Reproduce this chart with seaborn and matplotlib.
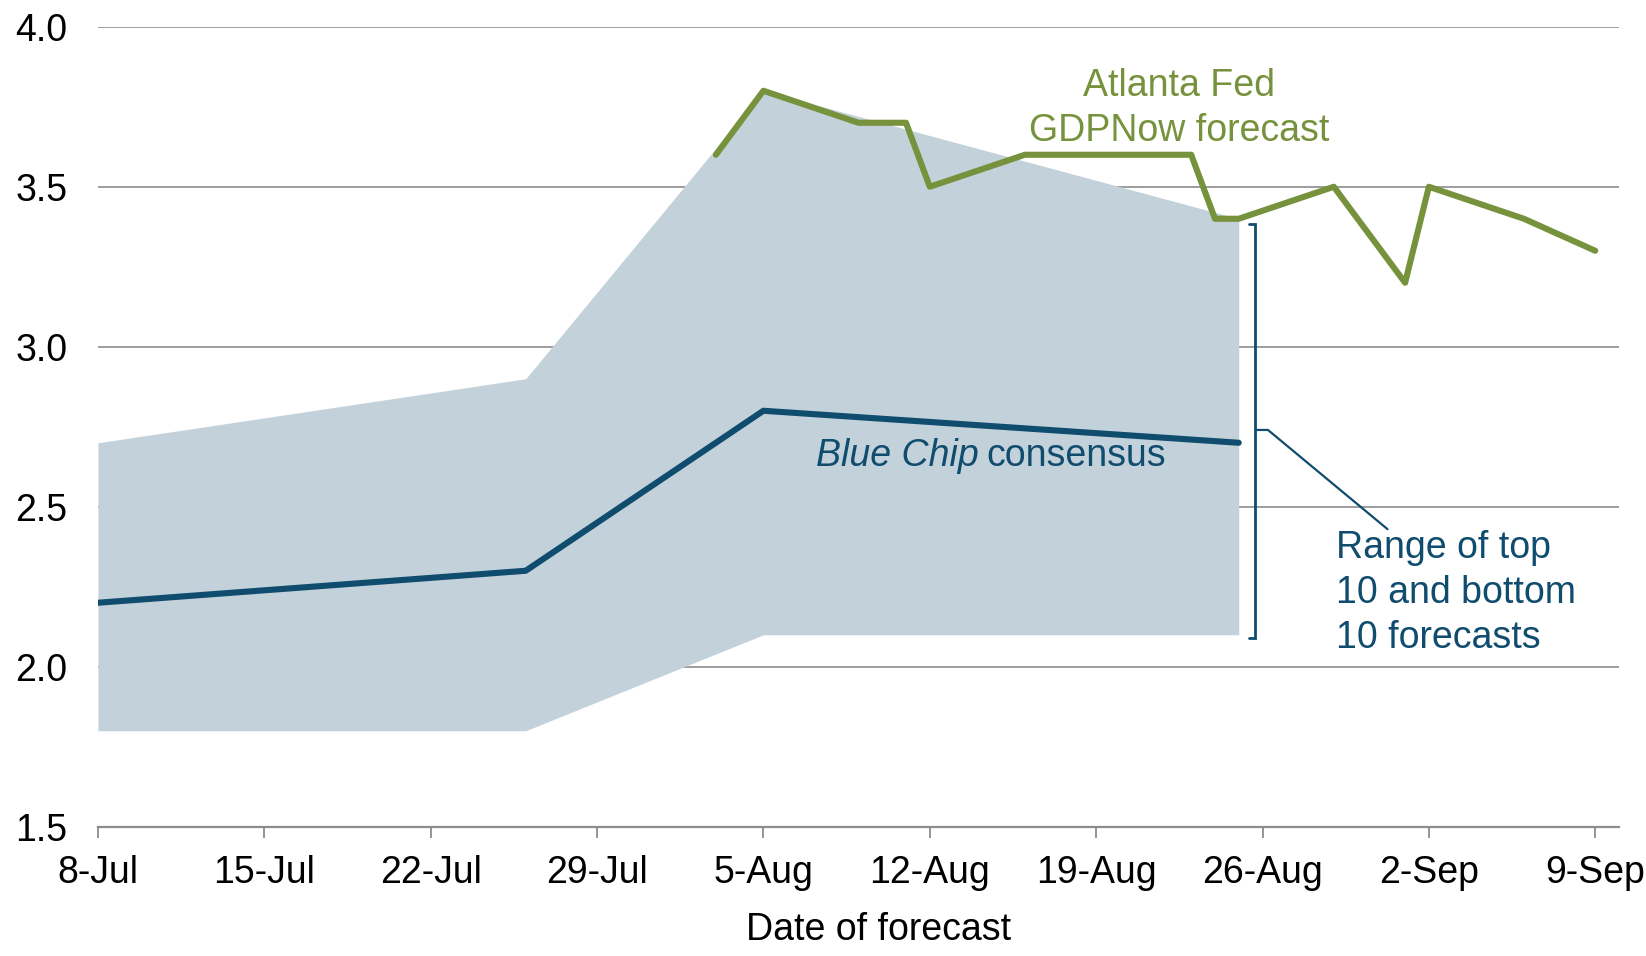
import pandas as pd
import matplotlib
matplotlib.use('Agg')
import matplotlib.pyplot as plt
import matplotlib.dates as mdates
import seaborn as sns

# Blue Chip survey: consensus and range of top/bottom 10 forecasts
bc_dates = pd.to_datetime(['2016-07-08', '2016-07-26', '2016-08-05', '2016-08-25'])
bc_consensus = [2.2, 2.3, 2.8, 2.7]
bc_top10 = [2.7, 2.9, 3.8, 3.4]
bc_bottom10 = [1.8, 1.8, 2.1, 2.1]

# Atlanta Fed GDPNow nowcasts
gdp_dates = pd.to_datetime(['2016-08-03', '2016-08-05', '2016-08-09', '2016-08-11',
                            '2016-08-12', '2016-08-16', '2016-08-23', '2016-08-24',
                            '2016-08-25', '2016-08-29', '2016-09-01', '2016-09-02',
                            '2016-09-06', '2016-09-09'])
gdp_now = [3.6, 3.8, 3.7, 3.7, 3.5, 3.6, 3.6, 3.4, 3.4, 3.5, 3.2, 3.5, 3.4, 3.3]

tick_dates = pd.date_range('2016-07-08', '2016-09-09', freq='7D')

green = '#76923C'
navy = '#0F4C6E'
band = '#C3D2DA'
grey = '#8C8C8C'
fs = 27

sns.set_style('white')
plt.rcParams['font.family'] = ['Liberation Sans', 'DejaVu Sans']
plt.rcParams['font.size'] = fs
plt.rcParams['text.color'] = 'black'
plt.rcParams['xtick.color'] = grey
plt.rcParams['xtick.labelcolor'] = 'black'
plt.rcParams['ytick.labelcolor'] = 'black'
plt.rcParams['axes.labelcolor'] = 'black'

fig = plt.figure(figsize=(16.46, 9.56), dpi=100)
ax = fig.add_axes([0.0595, 0.1352, 0.9241, 0.8368])

ax.fill_between(bc_dates, bc_bottom10, bc_top10, color=band, linewidth=0, zorder=1)
sns.lineplot(x=bc_dates, y=bc_consensus, ax=ax, color=navy, linewidth=4.4, zorder=3)
sns.lineplot(x=gdp_dates, y=gdp_now, ax=ax, color=green, linewidth=4.4, zorder=4)

ax.set_ylim(1.5, 4.0)
ax.set_yticks([1.5, 2.0, 2.5, 3.0, 3.5, 4.0])
ax.set_yticklabels(['1.5', '2.0', '2.5', '3.0', '3.5', '4.0'])
ax.set_xlim(pd.Timestamp('2016-07-08'), pd.Timestamp('2016-09-10'))
ax.set_xticks(tick_dates)
ax.xaxis.set_major_formatter(mdates.DateFormatter('%-d-%b'))

ax.yaxis.grid(True, color=grey, linewidth=1.2, zorder=0)
ax.set_axisbelow(True)
for s in ['top', 'right', 'left']:
    ax.spines[s].set_visible(False)
ax.spines['bottom'].set_color(grey)
ax.spines['bottom'].set_linewidth(1.6)
ax.tick_params(axis='y', length=0, pad=22, labelsize=fs)
ax.tick_params(axis='x', direction='out', length=7.7, width=1.3, color=grey,
               pad=13, labelsize=fs, bottom=True)
ax.set_xlabel('Date of forecast', fontsize=fs)
ax.xaxis.set_label_coords(0.513, -0.107)
ax.set_ylabel('')

d0 = pd.Timestamp('2016-07-08')
def day(n):
    return d0 + pd.Timedelta(days=n)

ax.text(day(45.5), 3.745, 'Atlanta Fed\nGDPNow forecast', color=green,
        ha='center', va='center', fontsize=fs, linespacing=1.32)
ax.text(day(37.07), 2.66, 'Blue Chip', color=navy, style='italic',
        ha='right', va='center', fontsize=fs)
ax.text(day(37.4), 2.66, 'consensus', color=navy,
        ha='left', va='center', fontsize=fs)
ax.text(day(52.1), 2.23, 'Range of top\n10 and bottom\n10 forecasts', color=navy,
        ha='left', va='center', fontsize=fs, linespacing=1.32)

# bracket and leader line for the range label
ax.plot([day(48.43), day(48.7), day(48.7), day(48.43)], [3.385, 3.385, 2.09, 2.09],
        color=navy, linewidth=2.0, solid_joinstyle='miter')
ax.plot([day(48.7), day(49.23), day(54.26)], [2.74, 2.74, 2.43],
        color=navy, linewidth=1.6)

fig.savefig('out.png', dpi=100)
